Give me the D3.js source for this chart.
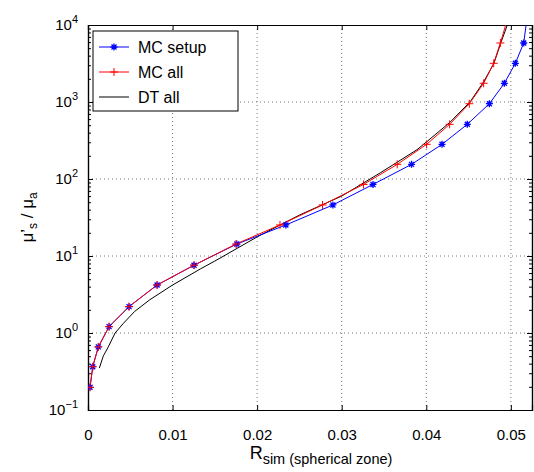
<!DOCTYPE html>
<html>
<head>
<meta charset="utf-8">
<script src="https://cdn.jsdelivr.net/npm/d3@7"></script>
<style>
  body { margin: 0; background: #fff; }
  text { font-family: "Liberation Sans", Arial, sans-serif; }
</style>
</head>
<body>
<svg id="chart" width="534" height="472"></svg>
<script>
// shared mu's/mu_a levels of the Monte Carlo runs
const muLevels = [0.197, 0.365, 0.66, 1.21, 2.2, 4.2, 7.6, 14.3, 25.3, 46, 85, 155, 282, 513, 950, 1750, 3180, 5840, 12000];
const rSetup = [0.00024, 0.00056, 0.00122, 0.00249, 0.00485, 0.00817, 0.01254, 0.0176, 0.0234, 0.02896, 0.0337, 0.03826, 0.04186, 0.04485, 0.04746, 0.04923, 0.05053, 0.05152, 0.0519];
const rAll = [0.00024, 0.00056, 0.00122, 0.00249, 0.00485, 0.00817, 0.01254, 0.0175, 0.0227, 0.02773, 0.03258, 0.03657, 0.04004, 0.04276, 0.04509, 0.04678, 0.04797, 0.04876, 0.0496];
// diffusion theory curve
const dtR = [0.00134, 0.0018, 0.0024, 0.0032, 0.0042, 0.0055, 0.0073, 0.010, 0.0133, 0.015, 0.020, 0.025, 0.030, 0.0346, 0.0389, 0.0401, 0.0428, 0.0452, 0.0468, 0.0480, 0.0488, 0.04955, 0.0498];
const dtMu = [0.35, 0.5, 0.66, 1.0, 1.34, 1.9, 2.7, 4.2, 6.8, 8.6, 17.7, 34, 60, 121, 240, 308, 545, 1010, 1840, 3180, 5800, 9800, 13000];

const xTicks = [0, 0.01, 0.02, 0.03, 0.04, 0.05];
const yTicks = [0.1, 1, 10, 100, 1000, 10000];
const yExps = [-1, 0, 1, 2, 3, 4];

const setup = rSetup.map((r, i) => ({ r, mu: muLevels[i] }));
const mcAll = rAll.map((r, i) => ({ r, mu: muLevels[i] }));
const dt = dtR.map((r, i) => ({ r, mu: dtMu[i] }));

const margin = { top: 25, left: 88, right: 2, bottom: 62 };
const svg = d3.select('#chart');
const width = 534 - margin.left - margin.right;
const height = 472 - margin.top - margin.bottom;

const x = d3.scaleLinear().domain([0, 0.0525]).range([0, width]);
const y = d3.scaleLog().domain([0.1, 10000]).range([height, 0]);

const g = svg.append('g').attr('transform', `translate(${margin.left},${margin.top})`);

g.append('clipPath').attr('id', 'clip')
  .append('rect').attr('width', width).attr('height', height);

// grid
g.append('g').selectAll('line').data(xTicks.slice(1)).enter().append('line')
  .attr('x1', d => x(d)).attr('x2', d => x(d)).attr('y1', 0).attr('y2', height)
  .attr('stroke', '#555').attr('stroke-width', 0.8).attr('stroke-dasharray', '1,3');
g.append('g').selectAll('line').data(yTicks.slice(1, -1)).enter().append('line')
  .attr('y1', d => y(d)).attr('y2', d => y(d)).attr('x1', 0).attr('x2', width)
  .attr('stroke', '#555').attr('stroke-width', 0.8).attr('stroke-dasharray', '1,3');

// axes with inward ticks
const minor = [];
yExps.slice(0, -1).forEach(e => { for (let k = 2; k < 10; k++) minor.push(k * Math.pow(10, e)); });

const axBottom = g.append('g').attr('transform', `translate(0,${height})`)
  .call(d3.axisBottom(x).tickValues(xTicks).tickSize(-5).tickPadding(19).tickFormat(d => d === 0 ? '0' : d3.format('.2f')(d)));
g.append('g')
  .call(d3.axisTop(x).tickValues(xTicks).tickSize(-5).tickFormat(''));
g.append('g')
  .call(d3.axisLeft(y).tickValues(yTicks).tickSize(-5).tickFormat(''));
g.append('g').call(d3.axisLeft(y).tickValues(minor).tickSize(-3).tickFormat(''));
g.append('g').attr('transform', `translate(${width},0)`)
  .call(d3.axisRight(y).tickValues(yTicks).tickSize(-5).tickFormat(''));
g.append('g').attr('transform', `translate(${width},0)`)
  .call(d3.axisRight(y).tickValues(minor).tickSize(-3).tickFormat(''));
g.selectAll('.domain').attr('stroke', '#000').attr('stroke-width', 1.2);
g.selectAll('.tick line').attr('stroke', '#000');
axBottom.selectAll('text').attr('font-size', 15).attr('fill', '#000');

// y tick labels with superscripts
const yl = g.append('g').selectAll('text').data(yExps).enter().append('text')
  .attr('x', -10).attr('y', e => y(Math.pow(10, e)) + 5)
  .attr('text-anchor', 'end').attr('font-size', 15);
yl.append('tspan').text('10');
yl.append('tspan').attr('dy', -7).attr('font-size', 11).text(e => e < 0 ? '\u2212' + Math.abs(e) : e);

// curves
const line = d3.line().x(d => x(d.r)).y(d => y(d.mu));
const plot = g.append('g').attr('clip-path', 'url(#clip)');
plot.append('path').datum(dt).attr('d', line).attr('fill', 'none').attr('stroke', '#000').attr('stroke-width', 1);
plot.append('path').datum(setup).attr('d', line).attr('fill', 'none').attr('stroke', '#0000ff').attr('stroke-width', 1);
plot.append('path').datum(mcAll).attr('d', line).attr('fill', 'none').attr('stroke', '#ff0000').attr('stroke-width', 1);

const star = 'M-3.5,0H3.5M0,-3.5V3.5M-2.5,-2.5L2.5,2.5M-2.5,2.5L2.5,-2.5';
const plus = 'M-4,0H4M0,-4V4';
plot.append('g').selectAll('path').data(setup.filter(d => d.mu < 10000)).enter().append('path')
  .attr('d', star).attr('transform', d => `translate(${x(d.r)},${y(d.mu)})`)
  .attr('stroke', '#0000ff').attr('stroke-width', 1.3).attr('fill', 'none');
plot.append('g').selectAll('path').data(mcAll.filter(d => d.mu < 10000)).enter().append('path')
  .attr('d', plus).attr('transform', d => `translate(${x(d.r)},${y(d.mu)})`)
  .attr('stroke', '#ff0000').attr('stroke-width', 1).attr('fill', 'none');

// legend
const legendData = [
  { text: 'MC setup', color: '#0000ff', marker: star, mw: 1.3 },
  { text: 'MC all', color: '#ff0000', marker: plus, mw: 1 },
  { text: 'DT all', color: '#000', marker: null }
];
const lg = g.append('g').attr('transform', 'translate(5,6)');
lg.append('rect').attr('width', 145).attr('height', 80)
  .attr('fill', '#fff').attr('stroke', '#000').attr('stroke-width', 1);
const items = lg.selectAll('g.legend').data(legendData).enter().append('g')
  .attr('class', 'legend').attr('transform', (d, i) => `translate(0,${16 + i * 25})`);
items.append('line').attr('x1', 6).attr('x2', 36).attr('stroke', d => d.color).attr('stroke-width', 1);
items.filter(d => d.marker).append('path').attr('d', d => d.marker)
  .attr('transform', 'translate(21,0)').attr('stroke', d => d.color).attr('stroke-width', d => d.mw).attr('fill', 'none');
items.append('text').attr('x', 45).attr('y', 6).attr('font-size', 16).text(d => d.text);

// axis labels
const xl = svg.append('text').attr('x', 321).attr('y', 459)
  .attr('text-anchor', 'middle').attr('font-size', 18);
xl.append('tspan').text('R');
xl.append('tspan').attr('dy', 5).attr('font-size', 14.5).text('sim (spherical zone)');

const ylab = svg.append('text').attr('transform', `translate(33,${margin.top + height / 2}) rotate(-90)`)
  .attr('text-anchor', 'middle').attr('font-size', 17);
ylab.append('tspan').text('\u03bc\u2019');
ylab.append('tspan').attr('dy', 4).attr('font-size', 12).text('s');
ylab.append('tspan').attr('dy', -4).text(' / \u03bc');
ylab.append('tspan').attr('dy', 4).attr('font-size', 12).text('a');
</script>
</body>
</html>
